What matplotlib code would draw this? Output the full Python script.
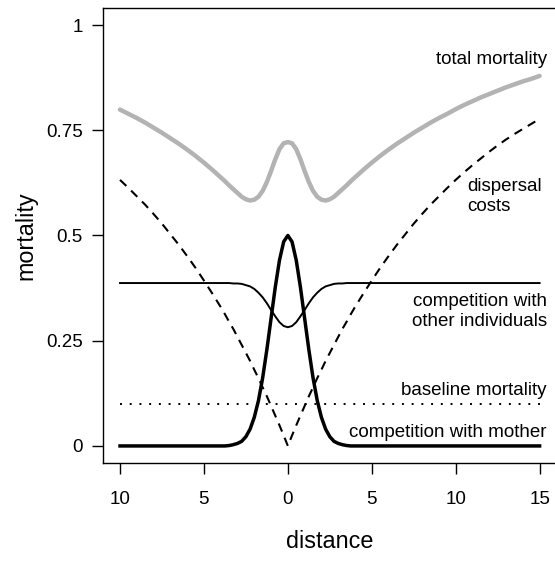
import matplotlib
matplotlib.use('Agg')
import matplotlib.pyplot as plt

plt.rcParams['font.family'] = ['Liberation Sans', 'DejaVu Sans']

# distance from the mother plant (left side plotted as |x|)
distance = [-10, -9.5, -9, -8.5, -8, -7.5, -7, -6.5, -6, -5.5, -5, -4.5,
            -4, -3.75, -3.5, -3.25, -3, -2.75, -2.5, -2.25, -2, -1.75, -1.5, -1.25,
            -1, -0.75, -0.5, -0.25,
            0, 0.25, 0.5, 0.75, 1, 1.25, 1.5, 1.75, 2, 2.25, 2.5, 2.75, 3, 3.25,
            3.5, 3.75, 4,
            4.5, 5, 5.5, 6, 6.5, 7, 7.5, 8, 8.5, 9, 9.5, 10, 10.5, 11, 11.5, 12,
            12.5, 13, 13.5, 14, 14.5, 15]

dispersal = [0.632, 0.613, 0.593, 0.573, 0.551, 0.528, 0.503, 0.478, 0.451, 0.423, 0.393, 0.362,
             0.330, 0.313, 0.295, 0.278, 0.259, 0.240, 0.221, 0.202, 0.181, 0.161, 0.139, 0.118,
             0.095, 0.072, 0.049, 0.025,
             0.000, 0.025, 0.049, 0.072, 0.095, 0.118, 0.139, 0.161, 0.181, 0.202, 0.221, 0.240,
             0.259, 0.278, 0.295, 0.313, 0.330,
             0.362, 0.393, 0.423, 0.451, 0.478, 0.503, 0.528, 0.551, 0.573, 0.593, 0.613, 0.632,
             0.650, 0.667, 0.683, 0.699, 0.714, 0.728, 0.741, 0.753, 0.765, 0.777]

mother = [0, 0, 0, 0, 0, 0, 0, 0, 0, 0, 0, 0,
          0.000, 0.000, 0.001, 0.003, 0.006, 0.011, 0.022, 0.040, 0.068, 0.108, 0.162, 0.229,
          0.303, 0.377, 0.441, 0.485,
          0.500, 0.485, 0.441, 0.377, 0.303, 0.229, 0.162, 0.108, 0.068, 0.040, 0.022, 0.011,
          0.006, 0.003, 0.001, 0.000, 0.000,
          0, 0, 0, 0, 0, 0, 0, 0, 0, 0, 0, 0,
          0, 0, 0, 0, 0, 0, 0, 0, 0, 0]

others = [0.387, 0.387, 0.387, 0.387, 0.387, 0.387, 0.387, 0.387, 0.387, 0.387, 0.387, 0.387,
          0.387, 0.387, 0.387, 0.386, 0.386, 0.385, 0.382, 0.379, 0.373, 0.364, 0.353, 0.339,
          0.323, 0.308, 0.294, 0.285,
          0.282, 0.285, 0.294, 0.308, 0.323, 0.339, 0.353, 0.364, 0.373, 0.379, 0.382, 0.385,
          0.386, 0.386, 0.387, 0.387, 0.387,
          0.387, 0.387, 0.387, 0.387, 0.387, 0.387, 0.387, 0.387, 0.387, 0.387, 0.387, 0.387,
          0.387, 0.387, 0.387, 0.387, 0.387, 0.387, 0.387, 0.387, 0.387, 0.387]

total = [0.799, 0.789, 0.779, 0.768, 0.756, 0.744, 0.731, 0.718, 0.704, 0.689, 0.673, 0.656,
         0.638, 0.629, 0.619, 0.610, 0.601, 0.592, 0.586, 0.583, 0.585, 0.592, 0.606, 0.627,
         0.653, 0.681, 0.705, 0.719,
         0.722, 0.719, 0.705, 0.681, 0.653, 0.627, 0.606, 0.592, 0.585, 0.583, 0.586, 0.592,
         0.601, 0.610, 0.619, 0.629, 0.638,
         0.656, 0.673, 0.689, 0.704, 0.718, 0.731, 0.744, 0.756, 0.768, 0.779, 0.789, 0.800,
         0.810, 0.819, 0.828, 0.836, 0.844, 0.852, 0.859, 0.866, 0.872, 0.879]

baseline = 0.1

x_ticks = [-10, -5, 0, 5, 10, 15]
x_ticklabels = ['10', '5', '0', '5', '10', '15']
y_ticks = [0, 0.25, 0.5, 0.75, 1]
y_ticklabels = ['0', '0.25', '0.5', '0.75', '1']

fig = plt.figure(figsize=(5.55, 5.63), dpi=100)
ax = fig.add_axes([0.186, 0.178, 0.8165, 0.8075])

ax.plot([distance[0], distance[-1]], [baseline, baseline], color='black', lw=1.4,
        linestyle=(0, (1, 4.0)))
ax.plot(distance, dispersal, color='black', lw=1.5, linestyle=(0, (4.2, 3.2)))
ax.plot(distance, others, color='black', lw=1.4)
ax.plot(distance, mother, color='black', lw=2.5)
ax.plot(distance, total, color='#b3b3b3', lw=3.2, solid_capstyle='round')

fs = 13.5
ax.text(15.42, 0.917, 'total mortality', ha='right', va='center', fontsize=fs)
ax.text(10.70, 0.592, 'dispersal\ncosts', ha='left', va='center', fontsize=fs,
        multialignment='left')
ax.text(15.42, 0.320, 'competition with\nother individuals', ha='right', va='center',
        fontsize=fs, multialignment='right')
ax.text(15.42, 0.131, 'baseline mortality', ha='right', va='center', fontsize=fs)
ax.text(15.42, 0.031, 'competition with mother', ha='right', va='center', fontsize=fs)

ax.set_xlim(-11, 16)
ax.set_ylim(-0.04, 1.04)
ax.set_xticks(x_ticks)
ax.set_xticklabels(x_ticklabels)
ax.set_yticks(y_ticks)
ax.set_yticklabels(y_ticklabels)
ax.tick_params(axis='both', direction='out', length=7.9, width=1, labelsize=fs)
ax.tick_params(axis='y', pad=6.8)
ax.tick_params(axis='x', pad=12.5)
for s in ax.spines.values():
    s.set_linewidth(1)

fig.text(26 / 555, 1 - 235.5 / 563, 'mortality', rotation=90, ha='center', va='center',
         fontsize=16.8)
fig.text(329.5 / 555, 1 - 541.7 / 563, 'distance', ha='center', va='center', fontsize=16.8)

fig.savefig('out.png', dpi=100)
plt.close(fig)
